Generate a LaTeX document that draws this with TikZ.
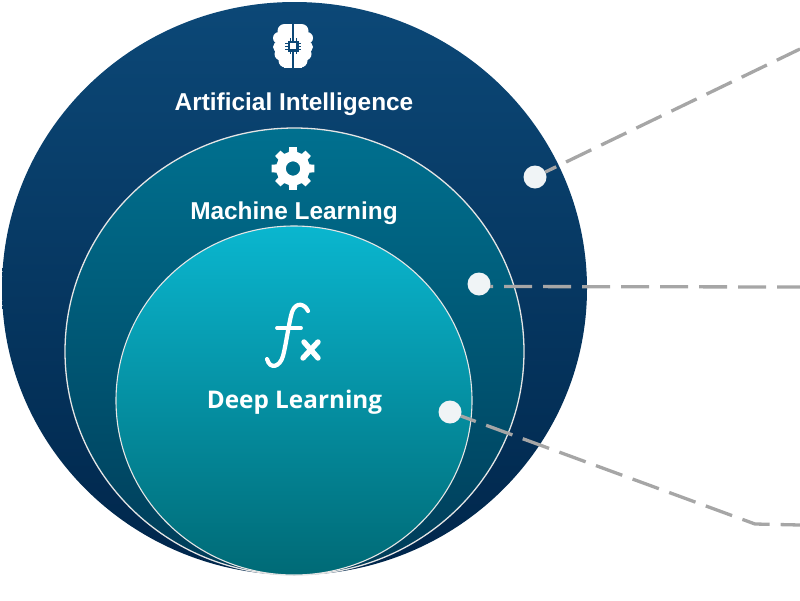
\documentclass[tikz,border=0pt]{standalone}
\usepackage{fontspec}
\usetikzlibrary{shapes.geometric}
\setmainfont{Liberation Sans}
\newfontfamily\dlfont{Open Sans}
\definecolor{dotc}{HTML}{F0F4F6}
\definecolor{dashc}{HTML}{A6A6A6}
\definecolor{outertop}{HTML}{0C4877}
\definecolor{outermid}{HTML}{053A66}
\definecolor{outerbot}{HTML}{00264B}
\definecolor{midtop}{HTML}{00708F}
\definecolor{midmid}{HTML}{006280}
\definecolor{midbot}{HTML}{003C58}
\definecolor{intop}{HTML}{0AB6CF}
\definecolor{inbot}{HTML}{006A76}
\definecolor{brainchip}{HTML}{0C4877}
\tikzset{
  x=1pt,y=-1pt,
  ring/.style={ellipse,inner sep=0pt,outer sep=0pt,shading angle=0},
  dotn/.style={circle,fill=dotc,minimum size=23pt,inner sep=0pt,outer sep=0pt},
  leader/.style={draw=dashc,line width=3.3pt},
  lab/.style={anchor=base,inner sep=0pt,text=white,font=\bfseries\fontsize{24.4}{25}\selectfont},
  dlab/.style={anchor=base,inner sep=0pt,text=white,font=\dlfont\bfseries\fontsize{24.3}{25}\selectfont},
}
\begin{document}
\begin{tikzpicture}
\useasboundingbox (0,0) rectangle (800,600);
\node[ring,minimum width=585pt,minimum height=573pt,top color=outertop,middle color=outermid,bottom color=outerbot] (ai) at (294.5,288.5) {};
\node[ring,minimum width=459pt,minimum height=447pt,draw=white!90!black,line width=1.3pt,top color=midtop,middle color=midmid,bottom color=midbot] (ml) at (294.5,351.5) {};
\node[ring,minimum width=356pt,minimum height=349pt,draw=white!90!black,line width=1.1pt,top color=intop,bottom color=inbot] (dl) at (294,400.5) {};
% labels
\node[lab] (tai) at (294,110) {Artificial Intelligence};
\node[lab] (tml) at (294,219) {Machine Learning};
\node[dlab] (tdl) at (294.5,408) {Deep Learning};
% brain icon
\begin{scope}[shift={(293,46)}]
  \foreach \s in {-1,1}{
    \begin{scope}[xscale=\s]
      \fill[white] (8.5,-15) circle[radius=7];
      \fill[white] (14,-8) circle[radius=6];
      \fill[white] (14.5,1) circle[radius=5.5];
      \fill[white] (12,8) circle[radius=6.5];
      \fill[white] (7.5,14.5) circle[radius=7];
      \fill[white] (1,-22) rectangle (9,21.5);
      \fill[white] (1,-15) rectangle (13,12);
    \end{scope}
  }
  \fill[brainchip] (-1,-23) rectangle (1,22.5);
  \draw[brainchip,line width=1pt] (-8,-3) -- (8,-3) (-8,0) -- (8,0) (-8,3) -- (8,3)
     (-3,-8) -- (-3,8) (0,-8) -- (0,8) (3,-8) -- (3,8);
  \fill[brainchip] (-5.5,-5.5) rectangle (5.5,5.5);
  \fill[white] (-3,-3) rectangle (3,3);
\end{scope}
% gear icon
\begin{scope}[shift={(293,168.5)}]
  \fill[white,even odd rule]
    (-14:17)
    \foreach \a in {0,45,...,315}{
      -- (\a-14:17) -- (\a-10:21.8) -- (\a+10:21.8) -- (\a+14:17)
    } -- cycle
    (0,0) circle[radius=7.2];
\end{scope}
% fx icon
\draw[white,line width=4.2pt,line cap=round]
  (308,311) .. controls (305,304) and (296,301) .. (292,312)
  .. controls (289,322) and (286,345) .. (283,356)
  .. controls (280,367) and (270,370) .. (267,359);
\draw[white,line width=3.8pt,line cap=round] (277,328) -- (301,328);
\draw[white,line width=5.4pt,line cap=round]
  (304,342) -- (318,358) (318,342) -- (303,358);
% leaders
\node[dotn] (d1) at (535,177) {};
\node[dotn] (d2) at (479,284) {};
\node[dotn] (d3) at (450,412) {};
\coordinate (s2) at (490,286.5);
\coordinate (e1) at (800,49);
\coordinate (e2) at (800,287);
\coordinate (k3) at (755,524);
\coordinate (e3) at (800,525);
\draw[leader,dash pattern=on 28pt off 11pt,dash phase=16pt] (d1) -- (e1);
\draw[leader,dash pattern=on 28pt off 11pt,dash phase=25pt] (s2) -- (e2);
\draw[leader,dash pattern=on 28pt off 11pt,dash phase=12pt] (d3) -- (k3) -- (e3);
\end{tikzpicture}
\end{document}
